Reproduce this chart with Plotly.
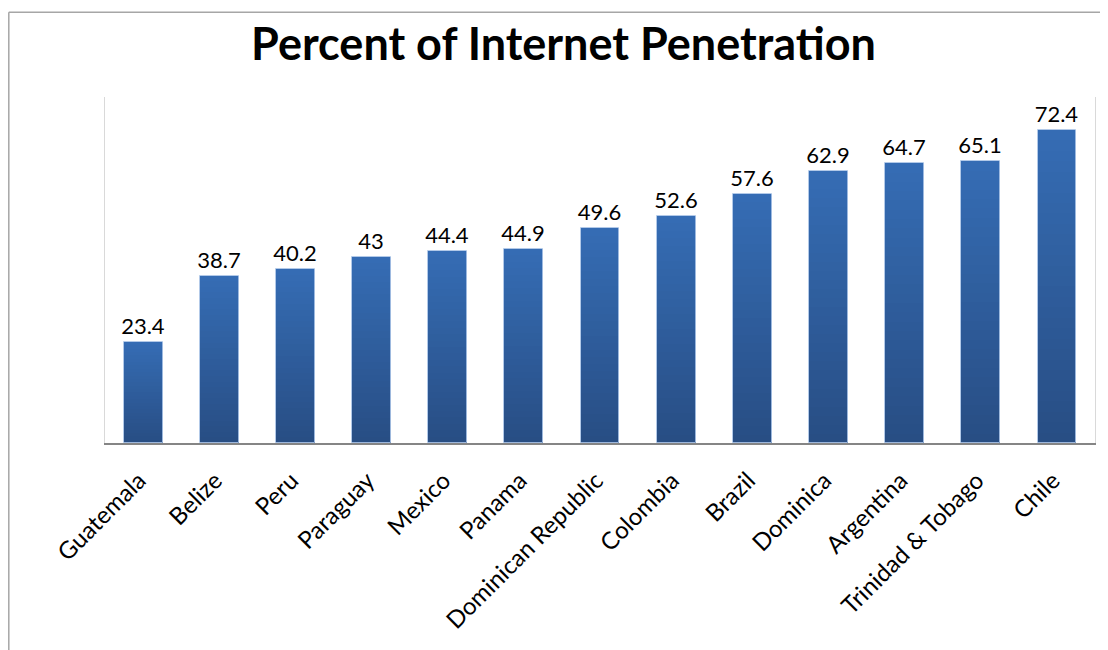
import plotly.graph_objects as go

countries = ["Guatemala", "Belize", "Peru", "Paraguay", "Mexico", "Panama",
             "Dominican Republic", "Colombia", "Brazil", "Dominica",
             "Argentina", "Trinidad & Tobago", "Chile"]
penetration = [23.4, 38.7, 40.2, 43, 44.4, 44.9, 49.6, 52.6, 57.6, 62.9, 64.7, 65.1, 72.4]
value_labels = ["23.4", "38.7", "40.2", "43", "44.4", "44.9", "49.6", "52.6",
                "57.6", "62.9", "64.7", "65.1", "72.4"]

FONT = "Lato"
TOP = (53, 108, 180)
BOT = (40, 78, 132)
N = 30

fig = go.Figure()
# vertical gradient: stacked overlays, lighter on top, darker at base
for k in range(N):
    f = (N - k) / N
    t = k / (N - 1)
    c = tuple(round(TOP[i] + (BOT[i] - TOP[i]) * t) for i in range(3))
    fig.add_trace(go.Bar(
        x=countries, y=[v * f for v in penetration],
        marker=dict(color="rgb(%d,%d,%d)" % c, line=dict(width=0)),
        width=0.51, hoverinfo="skip", showlegend=False))

fig.add_trace(go.Bar(
    x=countries, y=penetration, width=0.51,
    marker=dict(color="rgba(0,0,0,0)", line=dict(color="rgba(170,195,230,0.9)", width=1)),
    text=value_labels, textposition="outside", cliponaxis=False, constraintext="none",
    textfont=dict(family=FONT, size=22, color="#000000"),
    showlegend=False))

# figure is placed at (8,8) in the page (body margin)
W, H = 1100, 642
ML, MR, MT, MB = 97, 13, 89, 207
px_w = W - ML - MR
px_h = H - MT - MB

def px(x):
    return (x - ML) / px_w

def py(y):
    return (H - MB - y) / px_h

fig.update_layout(
    width=W, height=H,
    margin=dict(l=ML, r=MR, t=MT, b=MB),
    barmode="overlay", bargap=0,
    paper_bgcolor="white", plot_bgcolor="white",
    title=dict(text="<b>Percent of Internet Penetration</b>", x=0.505, xanchor="center",
               y=1 - 36 / H, yanchor="middle",
               font=dict(family=FONT, size=45, color="#000000")),
    xaxis=dict(range=[-0.5, 12.5], showline=True, linecolor="#858585", linewidth=2,
               ticks="", tickangle=-45, showgrid=False,
               ticklabelstandoff=12, ticklabelshift=-4,
               tickfont=dict(family=FONT, size=24, color="#000000")),
    yaxis=dict(range=[0, 80], showline=True, mirror=True, linecolor="#d9d9d9", linewidth=1,
               showticklabels=False, showgrid=False, zeroline=False, ticks=""),
    shapes=[
        dict(type="line", xref="paper", yref="paper",
             x0=px(0.8), x1=px(W + 5), y0=py(4.2), y1=py(4.2),
             line=dict(color="#a6a6a6", width=1.5)),
        dict(type="line", xref="paper", yref="paper",
             x0=px(0.8), x1=px(0.8), y0=py(4.2), y1=py(H + 5),
             line=dict(color="#a6a6a6", width=1.5)),
    ],
)

fig.write_html("out.html")
